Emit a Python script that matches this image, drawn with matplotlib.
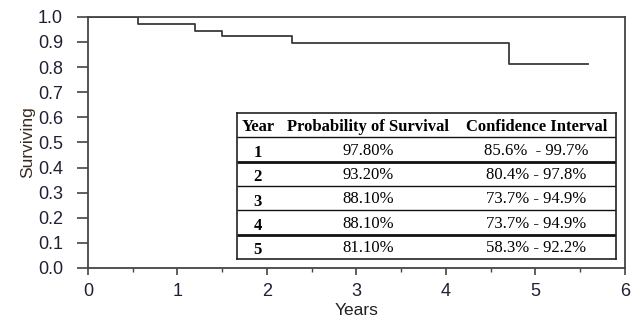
import matplotlib.pyplot as plt

# Kaplan-Meier step curve
step_years = [0.0, 0.56, 1.2, 1.5, 2.28, 4.7, 5.59]
step_surv = [1.0, 0.973, 0.944, 0.924, 0.896, 0.813, 0.813]

# table contents
tab_header = ['Year', 'Probability of Survival', 'Confidence Interval']
tab_year = ['1', '2', '3', '4', '5']
tab_prob = ['97.80%', '93.20%', '88.10%', '88.10%', '81.10%']
tab_ci = ['85.6%  - 99.7%', '80.4% - 97.8%', '73.7% - 94.9%', '73.7% - 94.9%', '58.3% - 92.2%']

plt.rcParams['font.family'] = ['Liberation Sans', 'DejaVu Sans']

fig = plt.figure(figsize=(6.37, 3.24), dpi=100)
ax = fig.add_axes([0.138, 0.173, 0.843, 0.775])

ax.step(step_years, step_surv, where='post', color='#3a3a3a', lw=1.3)

ax.set_xlim(0, 6)
ax.set_ylim(0, 1.0)
ax.set_xticks(range(0, 7))
ax.set_xticks([i + 0.5 for i in range(6)], minor=True)
ax.set_yticks([i / 10 for i in range(11)])
ax.set_yticklabels(['%.1f' % (i / 10) for i in range(11)])
ax.tick_params(axis='both', which='major', direction='out', width=1.2,
               color='#444444', labelsize=13, labelcolor='#1f2033')
ax.tick_params(axis='y', which='major', length=8, pad=10)
ax.tick_params(axis='x', which='major', length=5, pad=6)
ax.tick_params(axis='x', which='minor', direction='out', length=3, width=1.0, color='#444444')
for s in ax.spines.values():
    s.set_color('#444444')
    s.set_linewidth(1.3)
ax.set_xlabel('Years', fontsize=12.5, color='#222222', labelpad=2)
ax.set_ylabel('Surviving', fontsize=12.5, color='#3a2a20', labelpad=2)

# table drawn in its own small axes
tax = fig.add_axes([0.372, 0.2006, 0.595, 0.4506])
tax.set_xlim(0, 1)
tax.set_ylim(6, 0)
tax.set_xticks([])
tax.set_yticks([])
for s in tax.spines.values():
    s.set_color('#222222')
    s.set_linewidth(1.2)

serif = ['Liberation Serif', 'DejaVu Serif']
fs = 12
col_x = [0.055, 0.346, 0.79]
tax.text(0.012, 0.58, tab_header[0], ha='left', va='center', fontsize=fs,
         fontweight='bold', family=serif)
tax.text(col_x[1], 0.58, tab_header[1], ha='center', va='center', fontsize=fs,
         fontweight='bold', family=serif)
tax.text(col_x[2], 0.58, tab_header[2], ha='center', va='center', fontsize=fs,
         fontweight='bold', family=serif)
for i in range(len(tab_year)):
    r = i + 1.55
    tax.text(col_x[0], r + 0.1, tab_year[i], ha='center', va='center', fontsize=fs,
             fontweight='bold', family=serif)
    tax.text(col_x[1], r, tab_prob[i], ha='center', va='center', fontsize=fs, family=serif)
    tax.text(col_x[2], r, tab_ci[i], ha='center', va='center', fontsize=fs, family=serif)

thick = {2, 5}
for b in range(1, 6):
    tax.hlines(b, 0, 1, color='#111111', lw=2.0 if b in thick else 1.0)

fig.savefig('out.png', dpi=100)
